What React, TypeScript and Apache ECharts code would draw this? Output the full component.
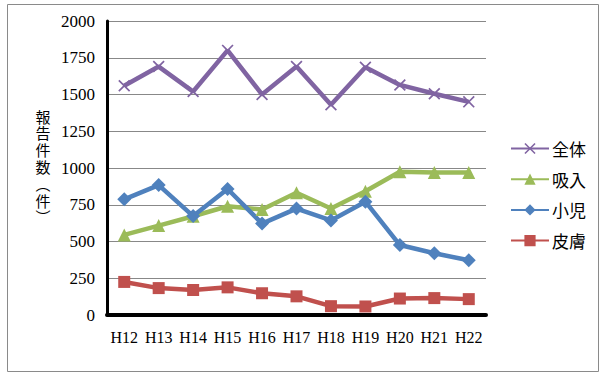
import React, { useEffect, useRef } from "react";
import * as echarts from "echarts";

const categories = ["H12", "H13", "H14", "H15", "H16", "H17", "H18", "H19", "H20", "H21", "H22"];
const zentai = [1560, 1690, 1520, 1800, 1500, 1690, 1430, 1685, 1565, 1505, 1450];
const kyunyu = [545, 608, 672, 740, 718, 832, 724, 842, 975, 970, 970];
const shoni = [787, 884, 673, 857, 622, 724, 643, 771, 476, 420, 372];
const hifu = [225, 183, 170, 188, 148, 127, 60, 58, 112, 115, 108];
const yTicks = { min: 0, max: 2000, interval: 250 };
const yTitleChars = ["報", "告", "件", "数", "︵", "件", "︶"];

const CROSS = "path://M0,1L1,0L5,4L9,0L10,1L6,5L10,9L9,10L5,6L1,10L0,9L4,5Z";

export default function App() {
  const ref = useRef<HTMLDivElement>(null);
  useEffect(() => {
    if (!ref.current) return;
    const chart = echarts.init(ref.current, null, { renderer: "svg" });
    const serif = "Liberation Serif";
    const sans = "Noto Sans CJK JP";
    const mk = (name: string, data: number[], color: string, symbol: string, size: number) => ({
      name,
      type: "line",
      data,
      symbol,
      symbolSize: size,
      showSymbol: true,
      lineStyle: { color, width: 4.5 },
      itemStyle: { color, borderWidth: 0 },
    });
    const titleTexts = yTitleChars.map((c, i) => ({
      type: "text",
      x: 43,
      y: 116 + i * 16.8,
      style: {
        text: c,
        font: `15px '${sans}'`,
        fill: "#000",
        align: "center",
        verticalAlign: "middle",
      },
    }));
    chart.setOption({
      animation: false,
      backgroundColor: "#ffffff",
      graphic: [
        {
          type: "rect",
          shape: { x: 7.5, y: 4.5, width: 591, height: 367 },
          style: { fill: "none", stroke: "#8a8a8a", lineWidth: 1 },
          z: -10,
        },
        ...titleTexts,
      ],
      grid: { left: 107, right: 115, top: 21, bottom: 59, containLabel: false },
      legend: {
        orient: "vertical",
        left: 505,
        top: 135,
        itemWidth: 38,
        itemHeight: 14,
        itemGap: 13.7,
        textStyle: { fontFamily: sans, fontSize: 17, color: "#000", padding: [0, 0, 0, -2] },
        data: ["全体", "吸入", "小児", "皮膚"],
      },
      xAxis: {
        type: "category",
        data: categories,
        boundaryGap: true,
        axisLine: { show: true, lineStyle: { color: "#000", width: 4 } },
        axisTick: { show: false },
        axisLabel: { color: "#000", fontFamily: serif, fontSize: 16, margin: 14, interval: 0 },
        splitLine: { show: false },
      },
      yAxis: {
        type: "value",
        min: yTicks.min,
        max: yTicks.max,
        interval: yTicks.interval,
        axisLine: { show: true, lineStyle: { color: "#000", width: 3 } },
        axisTick: { show: false },
        axisLabel: {
          color: "#000",
          fontFamily: serif,
          fontSize: 17,
          margin: 12,
          formatter: (v: number) => String(v),
        },
        splitLine: { show: true, lineStyle: { color: "#888", width: 1 } },
      },
      series: [
        mk("全体", zentai, "#8064A2", CROSS, 12),
        mk("吸入", kyunyu, "#9BBB59", "triangle", 13),
        mk("小児", shoni, "#4F81BD", "diamond", 14),
        mk("皮膚", hifu, "#C0504D", "rect", 12),
      ],
    });
    return () => chart.dispose();
  }, []);
  return (
    <div
      ref={ref}
      style={{ position: "fixed", left: 0, top: 0, width: 601, height: 374 }}
    />
  );
}
